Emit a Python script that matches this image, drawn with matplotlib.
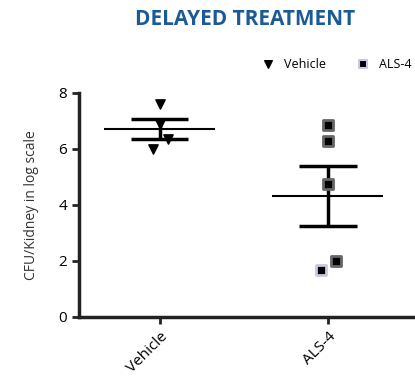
import numpy as np
import matplotlib
matplotlib.use("Agg")
from matplotlib import pyplot as plt

groups = ["Vehicle", "ALS-4"]
vehicle = [7.61, 6.89, 6.36, 6.0]
vehicle_jitter = [0.0, 0.0, 0.05, -0.04]
als4 = [6.86, 6.29, 4.75, 2.0, 1.68]
als4_jitter = [0.0, 0.0, 0.0, 0.05, -0.04]
yticks = [0, 2, 4, 6, 8]

plt.rcParams["font.family"] = ["Open Sans", "DejaVu Sans"]

fig = plt.figure(figsize=(4.15, 3.81), dpi=100)
ax = fig.add_axes([0.19, 0.168, 0.81, 0.588])

# points
ax.scatter(np.array(vehicle_jitter) + 0, vehicle, marker="v", s=45,
           color="black", zorder=3)
als_x = np.array(als4_jitter) + 1
edges = ["#666666"] * 4 + ["#c8c8e0"]
ax.scatter(als_x, als4, marker="s", s=50, color="black",
           edgecolors=edges, linewidths=2, zorder=3)

# mean +/- SEM
for i, vals in enumerate([vehicle, als4]):
    v = np.array(vals)
    m = v.mean()
    sem = v.std(ddof=1) / np.sqrt(len(v))
    ax.hlines(m, i - 0.33, i + 0.33, color="black", lw=1.5, zorder=2)
    ax.hlines([m - sem, m + sem], i - 0.17, i + 0.17, color="black", lw=2.5, zorder=2)
    ax.vlines(i, m - sem, m + sem, color="black", lw=2.5, zorder=2)

ax.set_xlim(-0.482, 1.518)
ax.set_ylim(0, 8)
ax.set_yticks(yticks)
ax.set_xticks(range(len(groups)))
ax.set_xticklabels(groups, rotation=45, ha="right", rotation_mode="anchor", fontsize=11)
ax.tick_params(axis="y", labelsize=11, width=2, length=5, color="#222222")
ax.tick_params(axis="x", width=2, length=5, color="#222222")
for s in ["top", "right"]:
    ax.spines[s].set_visible(False)
for s in ["left", "bottom"]:
    ax.spines[s].set_linewidth(2.5)
    ax.spines[s].set_color("#222222")
ax.set_ylabel("CFU/Kidney in log scale", fontsize=10, color="#333333")
ax.yaxis.set_label_coords(-0.12, 0.5)

fig.text(0.59, 0.95, "DELAYED TREATMENT", ha="center", va="center",
         fontsize=15, fontweight="bold", color="#1b5a96")

# legend drawn in pixel coordinates of the figure
lx = fig.add_axes([0, 0, 1, 1], facecolor="none")
lx.set_xlim(0, 415)
lx.set_ylim(381, 0)
lx.axis("off")
lx.scatter([268], [64], marker="v", s=30, color="black")
lx.text(284, 64, "Vehicle", va="center", fontsize=9)
lx.scatter([363], [64], marker="s", s=30, color="black", edgecolors="#c8c8e0", linewidths=1.5)
lx.text(379, 64, "ALS-4", va="center", fontsize=9)

fig.savefig("out.png", dpi=100)
